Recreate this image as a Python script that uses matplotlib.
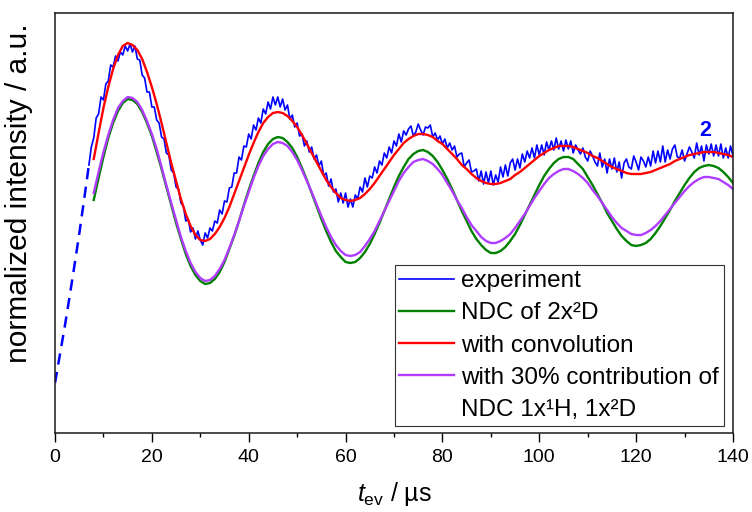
import numpy as np
import matplotlib
matplotlib.use("Agg")
import matplotlib.pyplot as plt
from matplotlib.lines import Line2D
from matplotlib.ticker import MultipleLocator

plt.rcParams["font.family"] = ["Liberation Sans", "DejaVu Sans"]
plt.rcParams["mathtext.fontset"] = "custom"
plt.rcParams["mathtext.rm"] = "Liberation Sans"
plt.rcParams["mathtext.it"] = "Liberation Sans:italic"

# time grids in microseconds
t_fit = np.arange(8, 141)
t_exp = np.arange(7, 140.5, 0.5)
t_extrap = [0, 1, 2, 3, 4, 5, 6, 7]

# intensities in arbitrary units
extrapolated = [50, 78, 106, 136, 167, 199, 233, 268]

experiment = [
    268, 286, 295, 315, 319, 336, 333, 349, 352, 368,
    366, 377, 372, 381, 378, 387, 382, 389, 381, 387,
    374, 373, 358, 355, 341, 341, 326, 326, 313, 310,
    296, 294, 280, 278, 263, 260, 246, 244, 230, 227,
    212, 214, 201, 205, 194, 202, 193, 188, 200, 195,
    205, 202, 212, 210, 223, 219, 232, 231, 245, 246,
    260, 260, 276, 273, 287, 286, 299, 294, 308, 303,
    315, 310, 324, 319, 331, 324, 336, 328, 336, 326,
    334, 323, 328, 314, 318, 306, 310, 297, 299, 287,
    292, 281, 286, 274, 278, 267, 272, 257, 260, 247,
    254, 241, 244, 231, 240, 230, 240, 226, 234, 226,
    238, 234, 246, 241, 255, 246, 257, 255, 266, 260,
    272, 268, 280, 275, 286, 280, 292, 287, 299, 291,
    302, 298, 304, 307, 297, 301, 309, 303, 298, 306,
    305, 308, 296, 300, 293, 297, 289, 294, 285, 290,
    283, 287, 276, 279, 280, 266, 270, 273, 261, 262,
    264, 252, 262, 249, 261, 250, 262, 248, 258, 251,
    266, 256, 268, 257, 270, 274, 263, 274, 265, 279,
    271, 282, 275, 285, 275, 288, 278, 288, 278, 291,
    283, 292, 283, 295, 284, 292, 282, 293, 284, 292,
    280, 288, 283, 279, 285, 276, 272, 282, 277, 271,
    267, 280, 266, 274, 260, 274, 264, 275, 261, 271,
    255, 270, 274, 266, 264, 277, 271, 263, 276, 272,
    266, 276, 267, 282, 270, 282, 271, 287, 271, 283,
    274, 284, 288, 276, 275, 283, 272, 279, 286, 281,
    275, 290, 278, 287, 272, 288, 279, 289, 277, 288,
    277, 289, 275, 285, 275, 287, 277,
]

ndc_2x2d = [
    233, 255, 276, 295, 310, 322, 330, 334, 333, 329,
    321, 310, 297, 281, 264, 246, 228, 210, 194, 179,
    167, 158, 152, 149, 150, 154, 161, 171, 184, 197,
    212, 228, 243, 257, 270, 281, 289, 294, 296, 295,
    291, 285, 276, 265, 253, 240, 227, 214, 202, 191,
    182, 176, 171, 170, 171, 175, 181, 189, 199, 210,
    222, 234, 246, 257, 266, 274, 279, 282, 283, 281,
    277, 271, 263, 254, 244, 233, 222, 212, 202, 194,
    188, 183, 180, 180, 182, 186, 192, 199, 208, 218,
    228, 238, 248, 257, 264, 270, 274, 276, 276, 274,
    269, 264, 256, 248, 239, 230, 220, 212, 204, 197,
    192, 188, 187, 188, 190, 194, 200, 207, 215, 223,
    232, 240, 248, 255, 261, 265, 267, 268, 267, 265,
    261, 256, 250,
]

with_convolution = [
    274, 300, 325, 346, 364, 378, 387, 390, 388, 383,
    374, 361, 346, 329, 310, 290, 270, 252, 234, 219,
    207, 198, 193, 192, 194, 199, 206, 215, 226, 239,
    252, 265, 278, 290, 301, 310, 316, 320, 321, 320,
    317, 312, 306, 298, 289, 280, 271, 262, 253, 246,
    240, 235, 233, 232, 233, 235, 239, 244, 250, 257,
    264, 271, 278, 284, 290, 294, 297, 299, 299, 298,
    296, 292, 289, 284, 279, 274, 268, 264, 259, 255,
    252, 250, 249, 249, 250, 252, 254, 258, 261, 265,
    269, 273, 277, 280, 283, 285, 287, 287, 287, 286,
    284, 282, 280, 277, 275, 272, 269, 266, 264, 262,
    260, 259, 259, 259, 260, 261, 263, 265, 267, 269,
    272, 274, 276, 278, 279, 280, 281, 281, 281, 280,
    279, 278, 276,
]

with_30pct = [
    240, 261, 281, 298, 313, 325, 332, 336, 335, 331,
    323, 312, 299, 284, 266, 248, 230, 213, 196, 182,
    170, 161, 155, 152, 153, 157, 164, 173, 185, 198,
    212, 227, 241, 255, 267, 277, 284, 289, 291, 290,
    287, 281, 273, 263, 252, 241, 229, 217, 206, 196,
    188, 182, 178, 177, 178, 181, 187, 194, 202, 212,
    222, 232, 242, 252, 260, 266, 271, 273, 274, 272,
    269, 264, 258, 250, 242, 233, 225, 216, 208, 202,
    196, 192, 190, 190, 192, 195, 199, 205, 212, 219,
    227, 235, 242, 249, 255, 259, 262, 264, 264, 262,
    259, 255, 250, 243, 237, 230, 223, 216, 210, 205,
    202, 199, 198, 198, 200, 203, 207, 212, 218, 224,
    230, 236, 242, 247, 251, 254, 256, 256, 255, 254,
    251, 248, 244,
]

labels = [
    "experiment",
    "NDC of 2x\u00b2D",
    "with convolution",
    "with 30% contribution of",
    "NDC 1x\u00b9H, 1x\u00b2D",
]

BLUE = "#0000FF"
GREEN = "#008000"
RED = "#FF0000"
VIOLET = "#B03CFF"

fig = plt.figure(figsize=(7.52, 5.12), dpi=100)
ax = fig.add_axes([55 / 752, 79 / 512, 678 / 752, 420 / 512])

ax.plot(t_extrap, extrapolated, color=BLUE, lw=1.8, ls=(0, (4.5, 3)))
ax.plot(t_exp, experiment, color=BLUE, lw=1.2)
ax.plot(t_fit, ndc_2x2d, color=GREEN, lw=1.7)
ax.plot(t_fit, with_convolution, color=RED, lw=1.7)
ax.plot(t_fit, with_30pct, color=VIOLET, lw=1.7)

ax.text(134.2, 303, "2", color=BLUE, fontsize=15.5, fontweight="bold",
        ha="center", va="center")

ax.set_xlim(0, 140)
ax.set_ylim(0, 420)
ax.set_yticks([])
ax.xaxis.set_major_locator(MultipleLocator(20))
ax.xaxis.set_minor_locator(MultipleLocator(10))
ax.tick_params(axis="x", which="major", direction="out", length=6.5,
               width=1, labelsize=14, pad=5)
ax.tick_params(axis="x", which="minor", direction="out", length=3.2, width=1)
for sp in ax.spines.values():
    sp.set_linewidth(1.1)
    sp.set_color("#1a1a1a")

ax.set_xlabel(r"$t_{\mathrm{ev}}$ / µs", fontsize=18, labelpad=10)
ax.set_ylabel("normalized intensity / a.u.", fontsize=21.5)
ax.yaxis.set_label_coords(-0.032, 0.572)

handles = [
    Line2D([], [], color=BLUE, lw=1.2),
    Line2D([], [], color=GREEN, lw=1.7),
    Line2D([], [], color=RED, lw=1.7),
    Line2D([], [], color=VIOLET, lw=1.7),
    Line2D([], [], color="none"),
]
leg = ax.legend(handles, labels, loc="lower right",
                bbox_to_anchor=(0.9867, 0.0167), borderaxespad=0,
                fontsize=17.5, fancybox=False, framealpha=1,
                edgecolor="#333333", handlelength=2.25, handletextpad=0.3,
                borderpad=0.2, labelspacing=0.42)
leg.get_frame().set_linewidth(0.8)

fig.savefig("out.png", dpi=100)
